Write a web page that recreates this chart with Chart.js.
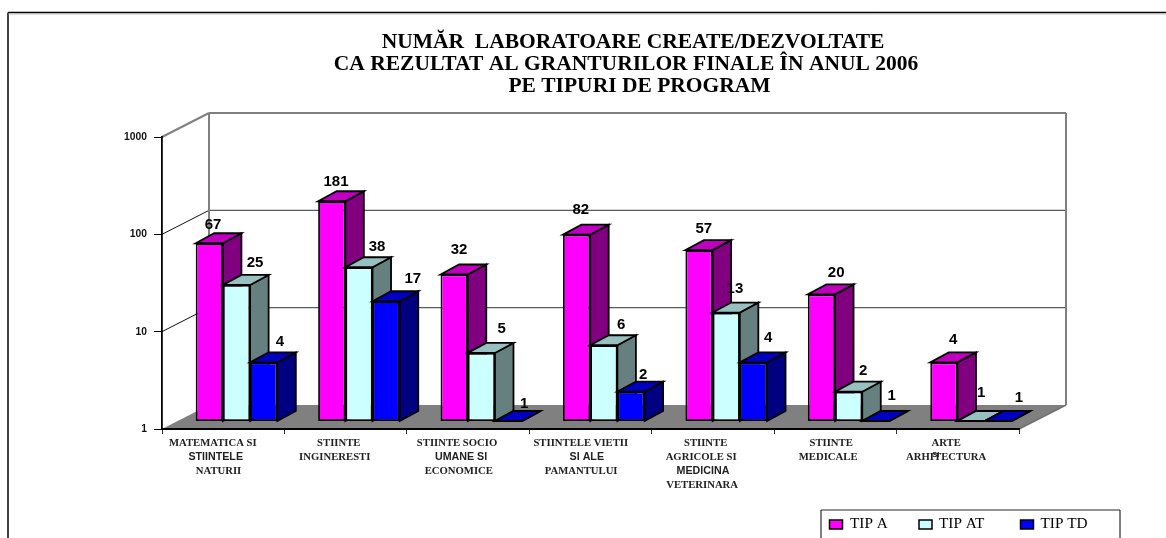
<!DOCTYPE html>
<html><head><meta charset="utf-8">
<style>html,body{margin:0;padding:0;background:#fff;overflow:hidden}canvas{display:block}</style>
<script src="https://cdn.jsdelivr.net/npm/chart.js@4/dist/chart.umd.min.js"></script>
</head><body><canvas id="c" width="1166" height="538"></canvas>
<script>
const categories = ['STIINTE MATEMATICA','STIINTE INGINERESTI','STIINTE SOCIO','STIINTELE VIETII','STIINTE AGRICOLE','STIINTE MEDICALE','ARTE'];
const tipA  = [67,181,32,82,57,20,4];
const tipAT = [25,38,5,6,13,2,1];
const tipTD = [4,17,1,2,4,1,1];
const seriesNames = ['TIP A','TIP AT','TIP TD'];
const yTicks = [1,10,100,1000];
const titleLines = ['NUMĂR  LABORATOARE CREATE/DEZVOLTATE','CA REZULTAT AL GRANTURILOR FINALE ÎN ANUL 2006','PE TIPURI DE PROGRAM'];
const catLabels = [
 ['MATEMATICA SI','STIINTELE','NATURII'],
 ['STIINTE','INGINERESTI'],
 ['STIINTE SOCIO','UMANE SI','ECONOMICE'],
 ['STIINTELE VIETII','SI ALE','PAMANTULUI'],
 ['STIINTE','AGRICOLE SI','MEDICINA','VETERINARA'],
 ['STIINTE','MEDICALE'],
 ['ARTE','ARHITECTURA']
];

// styling
const frontColors=['#FF00FF','#CCFFFF','#0000FF'], sideColors=['#800080','#668080','#000080'], topColors=['#C000C0','#99C0C0','#0000C0'];
const sansLines={'STIINTELE':1,'UMANE SI':1,'SI ALE':1,'MEDICINA':1};
const catLineDx=[[-10.4,-7.5,-4.7],[-6.9,-10.9],[-11,-7,-9.3],[-9.7,-3.7,-9.4],[-7.3,-11.8,-10,-10.8],[-4.2,-7.2],[-11.6,-11.6]];
const valDx=[[17,17.6,18.2,17.5,18,28,22.6],[31.8,31.4,33.7,30.6,22,27.8,23.4],[29.6,40,28.8,25.4,28,29,34]];
const valDy=[[-27,-28,-33.5,-33.7,-29.4,-30.4,-31.4],[-31,-29,-33,-29,-32,-29,-37],[-29,-31,-26,-25.7,-33,-34,-32]];
const BACK={dx:47,dy:-24}, FRONT={dx:13.3,dy:-8}, DEPTH={dx:18.5,dy:-10};

function poly(ctx,pts,fill,stroke,lw){
  ctx.beginPath();pts.forEach((p,i)=>i?ctx.lineTo(p[0],p[1]):ctx.moveTo(p[0],p[1]));ctx.closePath();
  if(fill){ctx.fillStyle=fill;ctx.fill();}
  if(stroke){ctx.strokeStyle=stroke;ctx.lineWidth=lw;ctx.lineJoin='miter';ctx.stroke();}
}
function seg(ctx,x1,y1,x2,y2,c,lw){ctx.beginPath();ctx.moveTo(x1,y1);ctx.lineTo(x2,y2);ctx.strokeStyle=c;ctx.lineWidth=lw;ctx.stroke();}

const scene={id:'scene',
 beforeDraw(chart){
  const ctx=chart.ctx,a=chart.chartArea,y=chart.scales.y;
  ctx.save();
  ctx.fillStyle='#fff';ctx.fillRect(0,0,chart.width,chart.height);
  seg(ctx,8,12.5,8,538,'#000',1.5);
  seg(ctx,8,12.5,1166,12.5,'#000',1.3);
  seg(ctx,8.5,14,1166,14,'#bbb',1);
  const L=a.left,R=a.right,B=a.bottom,T=a.top,dx=BACK.dx,dy=BACK.dy;
  poly(ctx,[[L,B],[L+dx,B+dy],[R+dx,B+dy],[R,B]],'#808080');
  yTicks.forEach(v=>{
    const p=y.getPixelForValue(v);
    if(v===1||v===1000)return;
    seg(ctx,L,p,L+dx,p+dy,'#111',1);
    seg(ctx,L+dx,p+dy,R+dx,p+dy,'#5a5a5a',1.4);
  });
  seg(ctx,L,T,L+dx,T+dy,'#808080',2);
  seg(ctx,L+dx,T+dy,R+dx,T+dy,'#808080',2);
  seg(ctx,L+dx,T+dy,L+dx,B+dy,'#808080',2);
  seg(ctx,R+dx,T+dy,R+dx,B+dy,'#808080',2);
  seg(ctx,R,B,R+dx,B+dy,'#707070',1.5);
  ctx.restore();
 },
 beforeDatasetsDraw(chart){
  const ctx=chart.ctx;
  const n=chart.data.labels.length;
  ctx.save();
  for(let i=0;i<n;i++){
   chart.data.datasets.forEach((ds,s)=>{
    const el=chart.getDatasetMeta(s).data[i];
    const l=el.x-el.width/2+FRONT.dx,r=el.x+el.width/2+FRONT.dx,t=el.y+FRONT.dy,b=el.base+FRONT.dy;
    const d=DEPTH.dx,e=DEPTH.dy;
    poly(ctx,[[r,t],[r+d,t+e],[r+d,b+e],[r,b]],sideColors[s],'#000',1.8);
    poly(ctx,[[l,t],[r,t],[r+d,t+e],[l+d,t+e]],topColors[s],'#000',1.8);
    ctx.save();ctx.translate(FRONT.dx,FRONT.dy);el.draw(ctx);ctx.restore();
   });
  }
  ctx.restore();
  return false;
 },
 afterDraw(chart){
  const ctx=chart.ctx,xs=chart.scales.x;
  ctx.save();
  ctx.textBaseline='middle';ctx.textAlign='center';ctx.fillStyle='#000';
  ctx.font='bold 21.5px "Liberation Serif"';
  const tc=[633,626,639.5],ty=[42.5,64.5,86.5];
  titleLines.forEach((t,i)=>ctx.fillText(t,tc[i],ty[i]));
  ctx.font='bold 15px "Liberation Sans"';
  chart.data.datasets.forEach((ds,s)=>{
    const m=chart.getDatasetMeta(s);
    ds.data.forEach((v,i)=>{const el=m.data[i];
      ctx.fillText(String(v),el.x+valDx[s][i],el.y+valDy[s][i]+0.5);});
  });
  ctx.fillStyle='#222';
  const y0=443.3,lh=13.9;
  ctx.font='bold 7.5px "Liberation Sans"';
  ctx.fillText('SI',xs.getPixelForTick(6)-22,455);
  catLabels.forEach((lines,i)=>{
    const c=xs.getPixelForTick(i);
    lines.forEach((t,j)=>{
      ctx.font=sansLines[t]?'bold 10.7px "Liberation Sans"':'bold 10.7px "Liberation Serif"';
      ctx.fillText(t,c+catLineDx[i][j],y0+j*lh);
    });
  });
  ctx.fillStyle='#000';
  seg(ctx,821,510,1120,510,'#707070',1.5);
  seg(ctx,821,510,821,538,'#000',1);
  seg(ctx,1120,510,1120,538,'#000',1);
  const sx=[829.5,919,1020.5],lx=[850,939,1040.5];
  ctx.textAlign='left';
  chart.data.datasets.forEach((ds,s)=>{
    ctx.fillStyle=frontColors[s];ctx.strokeStyle='#000';ctx.lineWidth=1.5;
    ctx.fillRect(sx[s],520,13,9);ctx.strokeRect(sx[s],520,13,9);
    ctx.fillStyle='#000';ctx.font='15.3px "Liberation Serif"';
    ctx.fillText(ds.label,lx[s],524);
  });
  ctx.restore();
 }
};

new Chart(document.getElementById('c'),{
 type:'bar',
 data:{labels:categories,datasets:[tipA,tipAT,tipTD].map((d,s)=>({label:seriesNames[s],data:d,
   backgroundColor:frontColors[s],borderColor:'#000',borderWidth:1.8,borderSkipped:false,
   categoryPercentage:2/3,barPercentage:1}))},
 plugins:[scene],
 options:{responsive:false,animation:false,
  layout:{padding:{left:100,right:147,top:137,bottom:50}},
  plugins:{legend:{display:false},title:{display:false},tooltip:{enabled:false}},
  scales:{
   x:{grid:{drawOnChartArea:false,drawTicks:true,tickLength:5,color:'#333',offset:true},
      border:{color:'#000',width:2},
      ticks:{display:false},
      afterFit(s){s.height=59;}},
   y:{type:'logarithmic',min:1,max:1000,
      afterBuildTicks(s){s.ticks=yTicks.map(v=>({value:v}));},
      grid:{drawOnChartArea:false,drawTicks:true,tickLength:8,color:'#000'},
      border:{color:'#000',width:1.8},
      ticks:{autoSkip:false,padding:7,color:'#111',font:{family:'"Liberation Sans"',size:10.3,weight:'bold'},callback:v=>String(v)},
      afterFit(s){s.width=62;}}
  }
 }
});
</script></body></html>
